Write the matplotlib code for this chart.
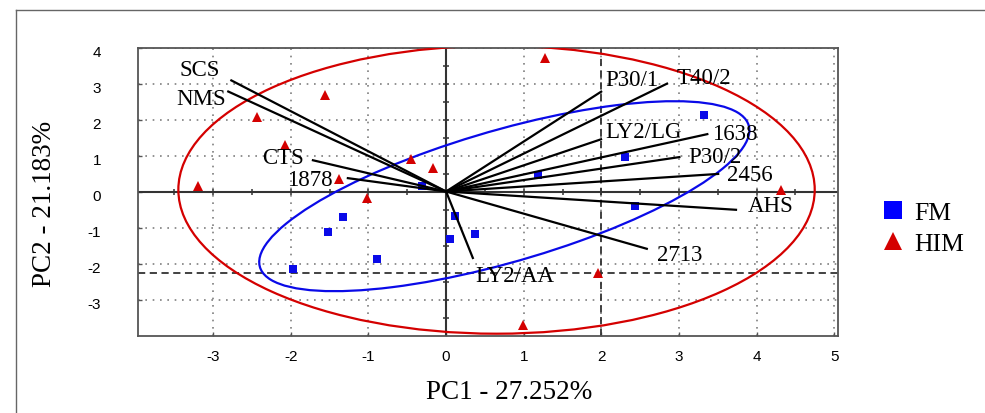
import matplotlib
matplotlib.use('Agg')
import matplotlib.pyplot as plt
import matplotlib.transforms as mtransforms
import numpy as np
from matplotlib.lines import Line2D
from matplotlib.patches import Ellipse

plt.rcParams['font.family'] = ['Liberation Sans', 'DejaVu Sans']
plt.rcParams['axes.unicode_minus'] = False

# punteggi gruppo FM
fm_x = [-0.31, -1.33, -1.52, -0.89, -1.97, 0.12, 0.05, 0.37, 1.19, 2.30, 2.44, 3.32]
fm_y = [0.15, -0.70, -1.12, -1.87, -2.15, -0.67, -1.31, -1.17, 0.46, 0.96, -0.39, 2.12]

# punteggi gruppo HIM
him_x = [-3.20, -2.44, -1.56, -2.07, -1.38, -1.02, -0.45, -0.17, 1.28, 4.32, 1.96, 0.99]
him_y = [0.15, 2.07, 2.68, 1.29, 0.35, -0.18, 0.90, 0.65, 3.71, 0.04, -2.26, -3.71]

# loadings delle variabili
var_names = ['SCS', 'NMS', 'CTS', '1878', 'P30/1', 'T40/2', 'LY2/LG',
             '1638', 'P30/2', '2456', 'AHS', '2713', 'LY2/AA']
load_x = [-2.78, -2.82, -1.73, -1.28, 2.01, 2.86, 2.01, 3.38, 3.02, 3.52, 3.75, 2.60, 0.35]
load_y = [3.10, 2.79, 0.875, 0.375, 2.79, 3.01, 1.46, 1.60, 0.96, 0.49, -0.51, -1.60, -1.875]

# ellissi: centro x, centro y, larghezza, altezza, angolo
fm_ell = [0.75, -0.13, 7.6, 3.16, 37.7]
him_ell = [0.65, 0.05, 8.2, 8.0, 0.0]

cut_x = 2.0
cut_y = -2.25

x_ticks = [-3, -2, -1, 0, 1, 2, 3, 4, 5]
y_ticks = [-3, -2, -1, 0, 1, 2, 3, 4]

# spostamento delle etichette (pixel) e allineamento
label_off = [(-10, 10, 'right'), (-1, -7, 'right'), (-8, 2, 'right'), (-14, -2, 'right'),
             (3, 12, 'left'), (9, 6, 'left'), (3, 7, 'left'), (4, 0, 'left'),
             (8, 0, 'left'), (8, -1, 'left'), (11, 4, 'left'), (9, -5, 'left'),
             (2, -17, 'left')]

blue = '#0a0ae8'
red = '#d40000'
serif = 'Liberation Serif'

fig = plt.figure(figsize=(9.85, 4.14), dpi=100)
ax = fig.add_axes([138 / 985, (414 - 336.5) / 414, 700 / 985, 288 / 414])
ax.set_xlim(-3.97, 5.05)
ax.set_ylim(-4, 4)

ax.set_xticks(x_ticks)
ax.set_yticks(y_ticks)
ax.set_axisbelow(True)
ax.grid(True, color='#7f7f7f', linestyle=(0, (1, 3.4)), linewidth=1.2)
ax.tick_params(direction='in', length=3, width=1, color='#555555', labelsize=11)
ax.tick_params(axis='x', pad=10)
ax.tick_params(axis='y', pad=26.5)
for s in ax.spines.values():
    s.set_color('#555555')
    s.set_linewidth(1.3)

# le etichette y sono un po' piu' in basso
shift = mtransforms.ScaledTranslation(0, -0.03, fig.dpi_scale_trans)
for lab in ax.get_yticklabels():
    lab.set_transform(lab.get_transform() + shift)

# assi centrali con tacche ogni 0.5
ax.axhline(0, color='#333333', lw=1.5, zorder=2)
ax.axvline(0, color='#333333', lw=1.5, zorder=2)
hx = np.arange(-3.5, 4.51, 0.5)
hx = hx[hx != 0]
hy = np.arange(-3.5, 3.51, 0.5)
hy = hy[hy != 0]
ax.plot(hx, np.zeros_like(hx), ls='none', marker='|', ms=5, mew=1.1, color='#333333', zorder=2)
ax.plot(np.zeros_like(hy), hy, ls='none', marker='_', ms=5, mew=1.1, color='#333333', zorder=2)

ax.axvline(cut_x, color='#333333', ls=(0, (4, 2.5)), lw=1.3, zorder=2)
ax.axhline(cut_y, color='#333333', ls=(0, (4, 2.5)), lw=1.3, zorder=2)

for e, c in [(him_ell, red), (fm_ell, blue)]:
    ax.add_patch(Ellipse((e[0], e[1]), e[2], e[3], angle=e[4], fill=False,
                         edgecolor=c, lw=1.6, zorder=3))

ax.plot(fm_x, fm_y, ls='none', marker='s', ms=5.2, mew=0, color=blue, zorder=4)
ax.plot(him_x, him_y, ls='none', marker='^', ms=6.8, mew=0, color=red, zorder=4)

for name, lx, ly, off in zip(var_names, load_x, load_y, label_off):
    ax.plot([0, lx], [0, ly], color='black', lw=1.6, zorder=5, solid_capstyle='butt')
    ax.annotate(name, (lx, ly), xytext=(off[0], off[1]), textcoords='offset pixels',
                ha=off[2], va='center', fontsize=16.5, family=serif, zorder=6)

fig.text(509 / 985, 1 - 393 / 414, 'PC1 - 27.252%', ha='center', va='center',
         fontsize=19.5, family=serif)
fig.text(45 / 985, 1 - 204 / 414, 'PC2 - 21.183%', ha='center', va='center',
         rotation=90, fontsize=19.5, family=serif)

handles = [Line2D([], [], ls='none', marker='s', ms=13, mew=0, color='#0000ff'),
           Line2D([], [], ls='none', marker='^', ms=13, mew=0, color=red)]
fig.legend(handles, ['FM', 'HIM'], loc='upper left', bbox_to_anchor=(883 / 985, 1 - 202 / 414),
           frameon=False, prop={'family': serif, 'size': 18.5}, handlelength=0.8,
           handletextpad=0.4, labelspacing=0.31, borderpad=0, borderaxespad=0)

# cornice esterna
fig.add_artist(Line2D([15.5 / 985, 15.5 / 985], [0, 1 - 10.5 / 414], color='#666666', lw=1,
                      transform=fig.transFigure))
fig.add_artist(Line2D([15.5 / 985, 1], [1 - 10.5 / 414, 1 - 10.5 / 414], color='#666666', lw=1,
                      transform=fig.transFigure))

fig.savefig('out.png', dpi=100)
